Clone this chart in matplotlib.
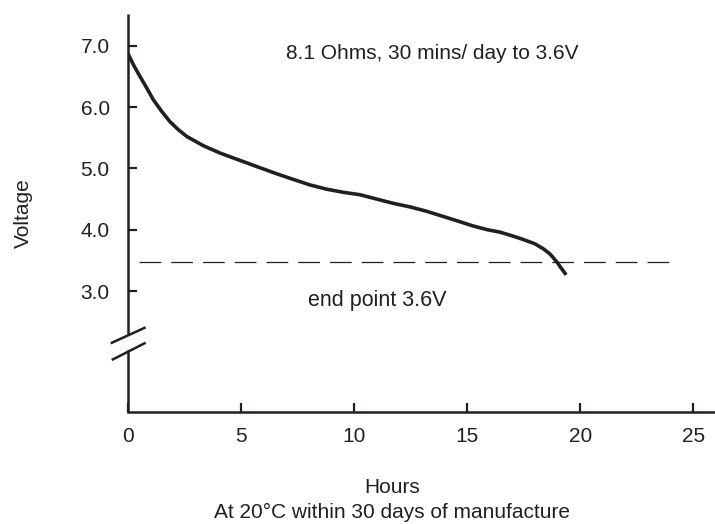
import matplotlib
matplotlib.use('Agg')
import matplotlib.pyplot as plt

plt.rcParams['font.family'] = ['Liberation Sans', 'DejaVu Sans']

# discharge curve
hours = [0.0, 0.25, 0.54, 0.84, 1.13, 1.50, 1.87, 2.24, 2.61, 3.34, 4.08,
         4.96, 5.85, 6.6, 7.32, 8.06, 8.80, 9.53, 10.27, 11.0, 11.74, 12.5,
         13.22, 14.0, 14.69, 15.28, 15.9, 16.46, 17.0, 17.49,
         18.0, 18.37, 18.65, 18.82, 19.0, 19.11, 19.25, 19.38]
voltage = [6.88, 6.69, 6.50, 6.31, 6.12, 5.93, 5.76, 5.63, 5.52, 5.37, 5.25,
           5.13, 5.01, 4.91, 4.82, 4.73, 4.66, 4.61, 4.57, 4.50, 4.43, 4.37,
           4.30, 4.21, 4.13, 4.06, 4.00, 3.96, 3.90, 3.84,
           3.77, 3.69, 3.61, 3.54, 3.46, 3.40, 3.33, 3.265]

endpoint_level = 3.47
endpoint_span = [0.5, 24.05]

x_ticks = [0, 5, 10, 15, 20, 25]
y_ticks = [3.0, 4.0, 5.0, 6.0, 7.0]

ink = '#231f20'

fig = plt.figure(figsize=(7.15, 5.24), dpi=100)
ax = fig.add_axes([0.1786, 0.2143, 0.8214, 0.759])

ax.plot(hours, voltage, color=ink, lw=2.6, solid_capstyle='butt',
        solid_joinstyle='round')
ax.plot(endpoint_span, [endpoint_level] * 2, color=ink, lw=0.9,
        dashes=(17.4, 8))

ax.set_xlim(0, 25.96)
ax.set_ylim(1.034, 7.516)
ax.set_xticks(x_ticks)
ax.set_xticklabels([str(t) for t in x_ticks])
ax.set_yticks(y_ticks)
ax.set_yticklabels(['%.1f' % t for t in y_ticks])
ax.tick_params(direction='in', length=6.5, width=1.6, color=ink,
               labelsize=15, labelcolor=ink)
ax.tick_params(axis='y', pad=13)
ax.tick_params(axis='x', pad=11)

for s in ['top', 'right', 'left']:
    ax.spines[s].set_visible(False)
ax.spines['bottom'].set_linewidth(1.8)
ax.spines['bottom'].set_color(ink)

# left spine with a break
kw = dict(transform=ax.transAxes, color=ink, lw=1.8, clip_on=False,
          solid_capstyle='butt')
ax.plot([0, 0], [0, 0.155], **kw)
ax.plot([0, 0], [0.195, 1], **kw)
ax.plot([-0.0289, 0.0306], [0.172, 0.2122], **kw)
ax.plot([-0.0272, 0.0306], [0.130, 0.1735], **kw)

ax.text(13.44, 6.876, '8.1 Ohms, 30 mins/ day to 3.6V', ha='center',
        va='center', fontsize=15, color=ink)
ax.text(11.04, 2.847, 'end point 3.6V', ha='center', va='center',
        fontsize=15.5, color=ink)

fig.text(0.0326, 0.593, 'Voltage', rotation=90, ha='center', va='center',
         fontsize=15, color=ink)
fig.text(0.548, 0.0706, 'Hours', ha='center', va='center', fontsize=15,
         color=ink)
fig.text(0.548, 0.0229, 'At 20°C within 30 days of manufacture', ha='center',
         va='center', fontsize=15, color=ink)

fig.savefig('out.png', dpi=100)
